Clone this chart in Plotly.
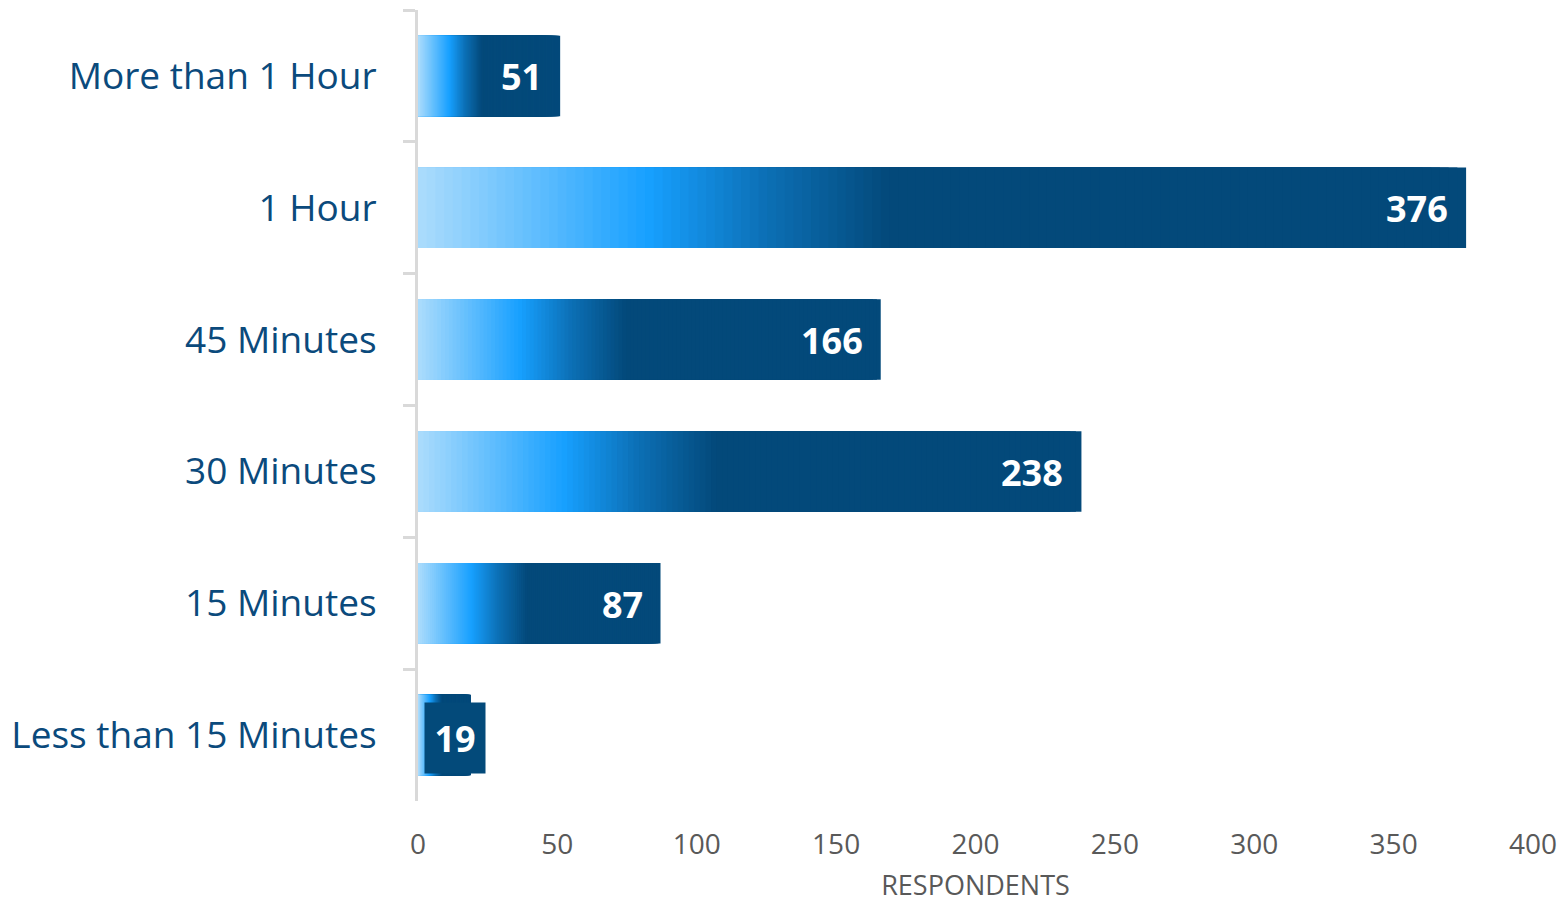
import plotly.graph_objects as go

# Commute duration categories (top to bottom) and respondent counts
categories = [
    "More than 1 Hour",
    "1 Hour",
    "45 Minutes",
    "30 Minutes",
    "15 Minutes",
    "Less than 15 Minutes",
]
respondents = [51, 376, 166, 238, 87, 19]
x_ticks = [0, 50, 100, 150, 200, 250, 300, 350, 400]

# Gradient stops along each bar (fraction of bar length -> RGB)
grad_stops = [
    (0.00, (172, 220, 252)),
    (0.22, (23, 160, 255)),
    (0.33, (12, 112, 182)),
    (0.45, (3, 73, 122)),
    (1.00, (3, 73, 122)),
]


def grad_color(f):
    for (f0, c0), (f1, c1) in zip(grad_stops[:-1], grad_stops[1:]):
        if f <= f1:
            t = 0 if f1 == f0 else (f - f0) / (f1 - f0)
            r, g, b = (round(a + (b_ - a) * t) for a, b_ in zip(c0, c1))
            return f"rgb({r},{g},{b})"
    r, g, b = grad_stops[-1][1]
    return f"rgb({r},{g},{b})"


fig = go.Figure()

# Gradient fill: overlaid bars from base 0, longest (darkest) first,
# each shorter bar covering the left part of the previous one.
steps = 120
for k in range(steps):
    frac_end = (steps - k) / steps
    frac_mid = (steps - k - 0.5) / steps
    fig.add_trace(
        go.Bar(
            y=categories,
            x=[v * frac_end for v in respondents],
            orientation="h",
            marker=dict(color=grad_color(frac_mid), line=dict(width=0)),
            hoverinfo="skip",
            showlegend=False,
        )
    )

# Value labels
dark = "#034a7a"
for cat, v in zip(categories, respondents):
    if v >= 40:
        fig.add_annotation(
            x=v, y=cat, text=f"<b>{v}</b>", showarrow=False,
            xanchor="right", xshift=-16, yshift=-1,
            font=dict(family="Open Sans", size=36, color="white"),
        )
    else:
        fig.add_annotation(
            x=0, y=cat, text=f"<b>{v}</b>", showarrow=False,
            xanchor="left", xshift=6, yshift=-3,
            width=60, height=70, borderpad=0, bgcolor=dark,
            font=dict(family="Open Sans", size=36, color="white"),
        )

fig.update_layout(
    width=1564,
    height=903,
    barmode="overlay",
    bargap=0.39,
    plot_bgcolor="white",
    paper_bgcolor="white",
    margin=dict(l=418, r=31, t=10, b=102),
    font=dict(family="Open Sans"),
    xaxis=dict(
        range=[0, 400],
        tickvals=x_ticks,
        showgrid=False,
        zeroline=False,
        showline=False,
        ticks="",
        automargin=False,
        ticklabelstandoff=24,
        tickfont=dict(size=28, color="#595959"),
        title=dict(text="RESPONDENTS", font=dict(size=27, color="#595959"), standoff=18),
    ),
    yaxis=dict(
        categoryorder="array",
        categoryarray=categories,
        autorange="reversed",
        showgrid=False,
        zeroline=False,
        showline=True,
        linecolor="#d9d9d9",
        linewidth=3,
        ticks="outside",
        tickson="boundaries",
        ticklen=12,
        tickwidth=3,
        tickcolor="#d9d9d9",
        automargin=False,
        ticklabelstandoff=31,
        tickfont=dict(size=37, color="#0b4a7c"),
    ),
)

fig.write_html("out.html")
